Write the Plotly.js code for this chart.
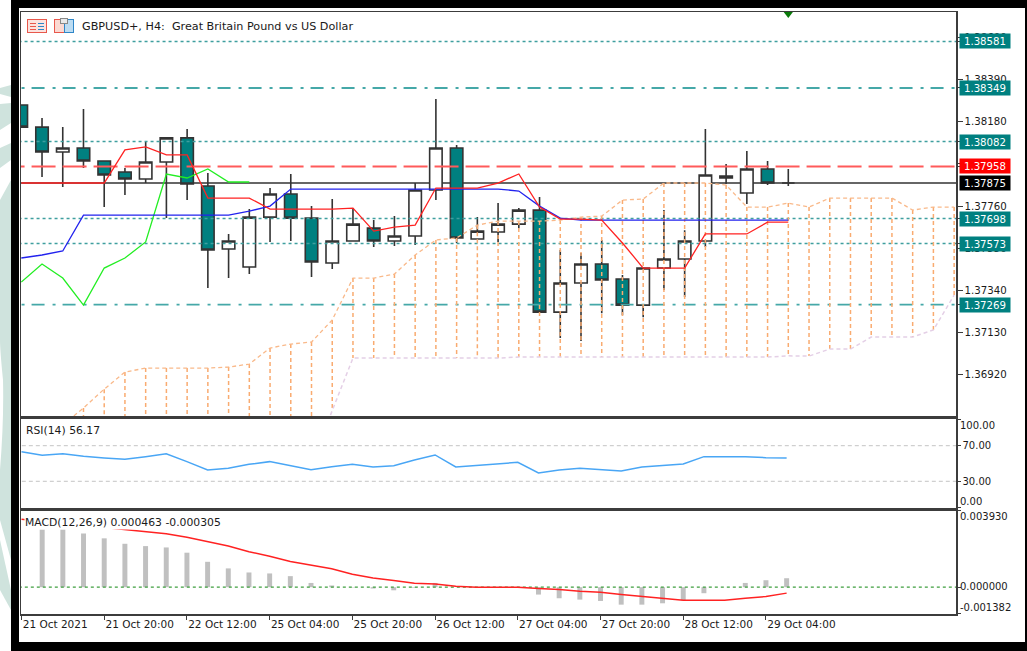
<!DOCTYPE html>
<html>
<head>
<meta charset="utf-8">
<script src="https://cdn.plot.ly/plotly-3.0.1.min.js"></script>
<style>
html,body{margin:0;padding:0;width:1027px;height:651px;overflow:hidden;background:#fff}
#bg{position:absolute;left:0;top:0}
#chart{position:absolute;left:0;top:0;width:1027px;height:651px}
</style>
</head>
<body>
<svg id="bg" width="1027" height="651" viewBox="0 0 1027 651">
  <rect width="1027" height="651" fill="#fff"/>
  <g fill="#cfe3dd">
    <polygon points="0,88 11,85 11,97 0,94"/>
    <polygon points="0,104 11,103 11,123 0,130"/>
    <polygon points="0,148 11,143 11,160 0,168"/>
    <path d="M11,180 L11,560 L0,520 L0,470 Q4,420 3,380 Q0,350 0,340 L0,200 Z"/>
    <polygon points="0,540 11,590 11,610 0,590"/>
  </g>
  <rect x="11" y="0" width="1016" height="651" fill="#000"/>
  <rect x="19" y="8" width="1006" height="634" fill="#fff"/>
  <g fill="none" stroke-width="1">
    <rect x="27.5" y="19.5" width="19" height="13" fill="#fbe3df" stroke="#e8584c"/>
    <path d="M30,23.5H36M30,26.5H36M30,29.5H36" stroke="#e8584c"/>
    <path d="M38,23.5H44M38,26.5H44M38,29.5H44" stroke="#2e86c8"/>
    <rect x="54.5" y="19.5" width="10" height="13" fill="#fbd9d2" stroke="#e8584c"/>
    <rect x="64.5" y="19.5" width="9" height="13" fill="#bcdcf2" stroke="#2e86c8"/>
    <rect x="60.5" y="18.5" width="7" height="5" fill="#e9e9e9" stroke="#888"/>
  </g>
</svg>
<div id="chart"></div>
<script>
// Bars: index along the time axis
var open  = [1.38264,1.38154,1.38030,1.38050,1.37985,1.37930,1.37895,1.37980,1.38100,1.37860,1.37546,1.37456,1.37705,1.37820,1.37700,1.37476,1.37586,1.37650,1.37586,1.37611,1.37840,1.38050,1.37596,1.37631,1.37670,1.37740,1.37231,1.37376,1.37471,1.37396,1.37266,1.37451,1.37496,1.37586,1.37900,1.37825,1.37945,1.37875];
var high  = [1.38264,1.38199,1.38154,1.38244,1.37985,1.37950,1.38080,1.38105,1.38144,1.37925,1.37621,1.37745,1.37850,1.37920,1.37760,1.37795,1.37750,1.37690,1.37710,1.37875,1.38294,1.38065,1.37705,1.37775,1.37750,1.37805,1.37541,1.37526,1.37591,1.37416,1.37451,1.37740,1.37640,1.38144,1.37970,1.38035,1.37985,1.37945];
var low   = [1.38154,1.37905,1.37855,1.37950,1.37755,1.37815,1.37875,1.37700,1.37790,1.37351,1.37401,1.37421,1.37581,1.37586,1.37406,1.37446,1.37586,1.37556,1.37561,1.37566,1.37790,1.37576,1.37596,1.37581,1.37650,1.37231,1.37102,1.37087,1.37226,1.37216,1.37206,1.37341,1.37306,1.37556,1.37870,1.37770,1.37865,1.37860];
var close = [1.38154,1.38030,1.38050,1.37985,1.37915,1.37895,1.37980,1.38100,1.37870,1.37541,1.37586,1.37705,1.37820,1.37700,1.37481,1.37586,1.37670,1.37586,1.37611,1.37840,1.38050,1.37601,1.37635,1.37670,1.37740,1.37231,1.37376,1.37471,1.37391,1.37266,1.37451,1.37496,1.37586,1.37915,1.37910,1.37945,1.37875,1.37875];

// Ichimoku
var tenkan = [1.37875,1.37875,1.37875,1.37875,1.37875,1.38040,1.38055,1.38015,1.38015,1.37800,1.37800,1.37800,1.37745,1.37745,1.37745,1.37745,1.37750,1.37635,1.37655,1.37665,1.37850,1.37850,1.37850,1.37875,1.37920,1.37755,1.37695,1.37695,1.37690,1.37576,1.37451,1.37451,1.37451,1.37621,1.37621,1.37621,1.37680,1.37680];
var kijun  = [1.37501,1.37516,1.37536,1.37715,1.37715,1.37715,1.37715,1.37715,1.37715,1.37715,1.37715,1.37735,1.37760,1.37845,1.37845,1.37845,1.37845,1.37845,1.37845,1.37845,1.37845,1.37845,1.37845,1.37845,1.37835,1.37760,1.37700,1.37690,1.37690,1.37690,1.37690,1.37690,1.37690,1.37690,1.37690,1.37690,1.37690,1.37690];
var chikou = [1.37381,1.37471,1.37401,1.37266,1.37451,1.37501,1.37581,1.37920,1.37900,1.37945,1.37880,1.37880];
var spanA  = [1.36543,1.36593,1.36668,1.36753,1.36847,1.36932,1.36952,1.36952,1.36952,1.36952,1.36957,1.36972,1.37052,1.37072,1.37082,1.37192,1.37401,1.37401,1.37421,1.37516,1.37591,1.37601,1.37665,1.37685,1.37685,1.37685,1.37690,1.37705,1.37710,1.37790,1.37795,1.37875,1.37875,1.37875,1.37865,1.37755,1.37755,1.37775,1.37755,1.37800,1.37800,1.37800,1.37800,1.37740,1.37755,1.37755];
var spanB  = [1.36443,1.36443,1.36443,1.36443,1.36443,1.36443,1.36443,1.36443,1.36443,1.36443,1.36443,1.36443,1.36443,1.36443,1.36478,1.36743,1.37002,1.37002,1.37002,1.37002,1.37002,1.37002,1.37002,1.37002,1.37007,1.37007,1.37007,1.37007,1.37007,1.37007,1.37007,1.37007,1.37007,1.37007,1.37007,1.37007,1.37007,1.37013,1.37012,1.37047,1.37047,1.37107,1.37107,1.37107,1.37142,1.37316];

// Price levels
var dottedLevels = [1.38581,1.38082,1.37698,1.37573];
var dashDotLevels = [1.38349,1.37269];
var askLevel = 1.37958;
var bidLevel = 1.37875;
var tealLabels = [1.38581,1.38349,1.38082,1.37698,1.37573,1.37269];
var priceTicks = [1.38600,1.38390,1.38180,1.37970,1.37760,1.37550,1.37340,1.37130,1.36920];
var markerBar = [37];
var markerPrice = [1.38728];

// RSI
var rsi = [63.3,59.2,61.0,58.1,56.2,54.7,57.7,61.0,52.1,42.7,44.6,49.1,52.1,47.6,43.1,46.4,49.1,46.1,47.6,53.9,59.6,46.1,47.6,49.4,51.3,39.3,42.7,44.6,43.1,41.6,46.1,47.6,49.4,57.7,57.7,57.7,56.5,56.17];
var rsiLevels = [70,30];

// MACD
var macdHist = [null,0.00298,0.00298,0.00277,0.00252,0.00224,0.00212,0.00205,0.00178,0.00131,0.00097,0.00076,0.00071,0.00057,0.00022,0.00009,-0.00002,-0.00007,-0.00016,-0.00003,0.00022,0,0,0,0.00001,-0.00038,-0.00057,-0.00064,-0.00071,-0.00090,-0.00090,-0.00083,-0.00067,-0.00031,0,0.00022,0.00036,0.000463];
var macdSignal = [0.00350,0.00338,0.00327,0.00317,0.00308,0.00298,0.00288,0.00276,0.00258,0.00236,0.00212,0.00183,0.00160,0.00133,0.00114,0.00095,0.00067,0.00048,0.00034,0.00021,0.00016,0.00005,0,0,0,-0.00007,-0.00012,-0.00021,-0.00026,-0.00038,-0.00047,-0.00059,-0.00067,-0.00067,-0.00067,-0.00057,-0.00048,-0.000305];

// Time labels
var timeTickBars = [0,4,8,12,16,20,24,28,32,36];
var timeTickText = ['21 Oct 2021','21 Oct 20:00','22 Oct 12:00','25 Oct 04:00','25 Oct 20:00','26 Oct 12:00','27 Oct 04:00','27 Oct 20:00','28 Oct 12:00','29 Oct 04:00'];

var FONT = '"DejaVu Sans", sans-serif';
var TXT = '#1a1a1a';
var TEAL = '#008080';
var idx = function(a){return a.map(function(_,i){return i;});};
var mainRange = [-0.014,45.09];
var subRange = [-0.024,45.19];

var traces = [];
traces.push({type:'candlestick',x:idx(open),open:open,high:high,low:low,close:close,xaxis:'x',yaxis:'y',
  increasing:{line:{color:'#333333',width:1.6},fillcolor:'#ffffff'},
  decreasing:{line:{color:'#333333',width:1.6},fillcolor:TEAL},whiskerwidth:0,showlegend:false});

function hline(y,color,dash,width){
  traces.push({type:'scatter',mode:'lines',x:[-1,47],y:[y,y],xaxis:'x',yaxis:'y',
    line:{color:color,dash:dash,width:width},showlegend:false});
}
hline(askLevel,'#ff5a5a','24px,7px',2);
dottedLevels.forEach(function(v){hline(v,'#3f9f9f','3px,3px',1.5);});
dashDotLevels.forEach(function(v){hline(v,'#45a8a8','13px,8px,3px,7px',1.8);});

// Cloud hatching: one vertical per bar between the two spans
var hx=[],hy=[];
spanA.forEach(function(a,i){hx.push(i,i,null);hy.push(a,spanB[i],null);});
traces.push({type:'scatter',mode:'lines',x:hx,y:hy,xaxis:'x',yaxis:'y',
  line:{color:'#f9ab70',dash:'4px,3px',width:1.5},showlegend:false,connectgaps:false});
traces.push({type:'scatter',mode:'lines',x:idx(spanA),y:spanA,xaxis:'x',yaxis:'y',
  line:{color:'#f9b98a',dash:'4px,3px',width:1.3},showlegend:false});
traces.push({type:'scatter',mode:'lines',x:idx(spanB),y:spanB,xaxis:'x',yaxis:'y',
  line:{color:'#e4cfe6',dash:'4px,3px',width:1.5},showlegend:false});
traces.push({type:'scatter',mode:'lines',x:idx(chikou),y:chikou,xaxis:'x',yaxis:'y',line:{color:'#22ee22',width:1.3},showlegend:false});
traces.push({type:'scatter',mode:'lines',x:idx(kijun),y:kijun,xaxis:'x',yaxis:'y',line:{color:'#2222ee',width:1.3},showlegend:false});
traces.push({type:'scatter',mode:'lines',x:idx(tenkan),y:tenkan,xaxis:'x',yaxis:'y',line:{color:'#ff2222',width:1.3},showlegend:false});
traces.push({type:'scatter',mode:'markers',x:markerBar,y:markerPrice,xaxis:'x',yaxis:'y',
  marker:{symbol:'triangle-down',size:12,color:'#0a7a0a'},showlegend:false});

// RSI
rsiLevels.forEach(function(v){
  traces.push({type:'scatter',mode:'lines',x:[-1,47],y:[v,v],xaxis:'x2',yaxis:'y2',
    line:{color:'#c4c4c4',dash:'4px,3px',width:1},showlegend:false});
});
traces.push({type:'scatter',mode:'lines',x:idx(rsi),y:rsi,xaxis:'x2',yaxis:'y2',line:{color:'#49a6f5',width:1.5},showlegend:false});

// MACD
traces.push({type:'bar',x:idx(macdHist),y:macdHist,width:0.24,xaxis:'x3',yaxis:'y3',marker:{color:'#c0c0c0',line:{width:0}},showlegend:false});
traces.push({type:'scatter',mode:'lines',x:[-1,47],y:[0,0],xaxis:'x3',yaxis:'y3',line:{color:'#3f9f3f',dash:'3px,3px',width:1.2},showlegend:false});
traces.push({type:'scatter',mode:'lines',x:idx(macdSignal),y:macdSignal,xaxis:'x3',yaxis:'y3',line:{color:'#ff2222',width:1.5},showlegend:false});

var annotations = [];
function priceBox(v,bg){
  annotations.push({xref:'paper',yref:'y',x:1,y:v,xanchor:'left',yanchor:'middle',xshift:3,width:50,height:14,
    text:v.toFixed(5),showarrow:false,bgcolor:bg,font:{family:FONT,size:10.2,color:'#ffffff'},align:'center',borderpad:0});
}
tealLabels.forEach(function(v){priceBox(v,TEAL);});
priceBox(askLevel,'#ff0000');
priceBox(bidLevel,'#000000');

function sideText(yref,v,txt,shift){
  annotations.push({xref:'paper',yref:yref,x:1,y:v,xanchor:'left',yanchor:'middle',xshift:3,yshift:shift,
    text:txt,showarrow:false,font:{family:FONT,size:10,color:TXT},borderpad:0});
}
sideText('y2',100,'100.00',-6);
sideText('y2',0,'0.00',6);
sideText('y3',0.00393,'0.003930',-6);
sideText('y3',0,'0.000000',1);
sideText('y3',-0.001382,'-0.001382',6);

annotations.push({xref:'paper',yref:'paper',x:0,y:1,xanchor:'left',yanchor:'middle',xshift:59,yshift:-14.5,
  text:'GBPUSD+, H4:\u00A0 Great Britain Pound vs US Dollar',showarrow:false,font:{family:FONT,size:11.2,color:TXT}});
annotations.push({xref:'paper',yref:'y2',x:0,y:100,xanchor:'left',yanchor:'middle',xshift:3,yshift:-11,
  text:'RSI(14) 56.17',showarrow:false,font:{family:FONT,size:10.8,color:TXT}});
annotations.push({xref:'paper',yref:'y3',x:0,y:0.00393,xanchor:'left',yanchor:'middle',xshift:3,yshift:-12,
  text:'MACD(12,26,9) 0.000463 -0.000305',showarrow:false,bgcolor:'#ffffff',font:{family:FONT,size:10.8,color:TXT},borderpad:0});

var frame = {showline:true,linecolor:'#3c3c3c',linewidth:1.5,mirror:true,showgrid:false,zeroline:false};
function xa(anchor,range){return Object.assign({},frame,{anchor:anchor,range:range,showticklabels:false,ticks:'',rangeslider:{visible:false},fixedrange:true});}

var levelTicks = tealLabels.concat([askLevel]);
var layout = {
  width:1027,height:651,autosize:false,
  margin:{l:21,r:71,t:12,b:37,pad:0},
  paper_bgcolor:'rgba(0,0,0,0)',plot_bgcolor:'rgba(0,0,0,0)',
  showlegend:false,boxgap:0.14,barmode:'overlay',
  font:{family:FONT,size:10.5,color:TXT},
  xaxis:xa('y',mainRange),
  xaxis2:xa('y2',subRange),
  xaxis3:Object.assign(xa('y3',subRange),{showticklabels:true,ticks:'outside',ticklen:4,tickcolor:'#3c3c3c',
    tickmode:'array',tickvals:timeTickBars,ticktext:timeTickText,ticklabelposition:'outside right',tickangle:0,
    tickfont:{family:FONT,size:10.5,color:TXT}}),
  yaxis:Object.assign({},frame,{domain:[0.3289,1],range:[1.36713,1.38728],side:'right',anchor:'x',
    tickmode:'array',tickvals:priceTicks.concat(levelTicks),
    ticktext:priceTicks.map(function(v){return v.toFixed(5);}).concat(levelTicks.map(function(){return '';})),
    ticks:'outside',ticklen:5,tickcolor:'#3c3c3c',tickfont:{family:FONT,size:10.2,color:TXT}}),
  yaxis2:Object.assign({},frame,{domain:[0.1761,0.3239],range:[0,100],side:'right',anchor:'x2',
    tickmode:'array',tickvals:[100,70,30,0],ticktext:['','70.00','30.00',''],
    ticks:'outside',ticklen:3,tickcolor:'#3c3c3c',tickfont:{family:FONT,size:10,color:TXT}}),
  yaxis3:Object.assign({},frame,{domain:[0,0.1711],range:[-0.001382,0.00393],side:'right',anchor:'x3',
    tickmode:'array',tickvals:[0.00393,0,-0.001382],ticktext:['','',''],
    ticks:'outside',ticklen:3,tickcolor:'#3c3c3c'}),
  annotations:annotations,
  shapes:[{type:'line',layer:'below',xref:'paper',yref:'y',x0:0,x1:1,y0:bidLevel,y1:bidLevel,line:{color:'#333333',width:1.5}}]
};
Plotly.newPlot('chart',traces,layout,{displayModeBar:false,staticPlot:true});
</script>
</body>
</html>
